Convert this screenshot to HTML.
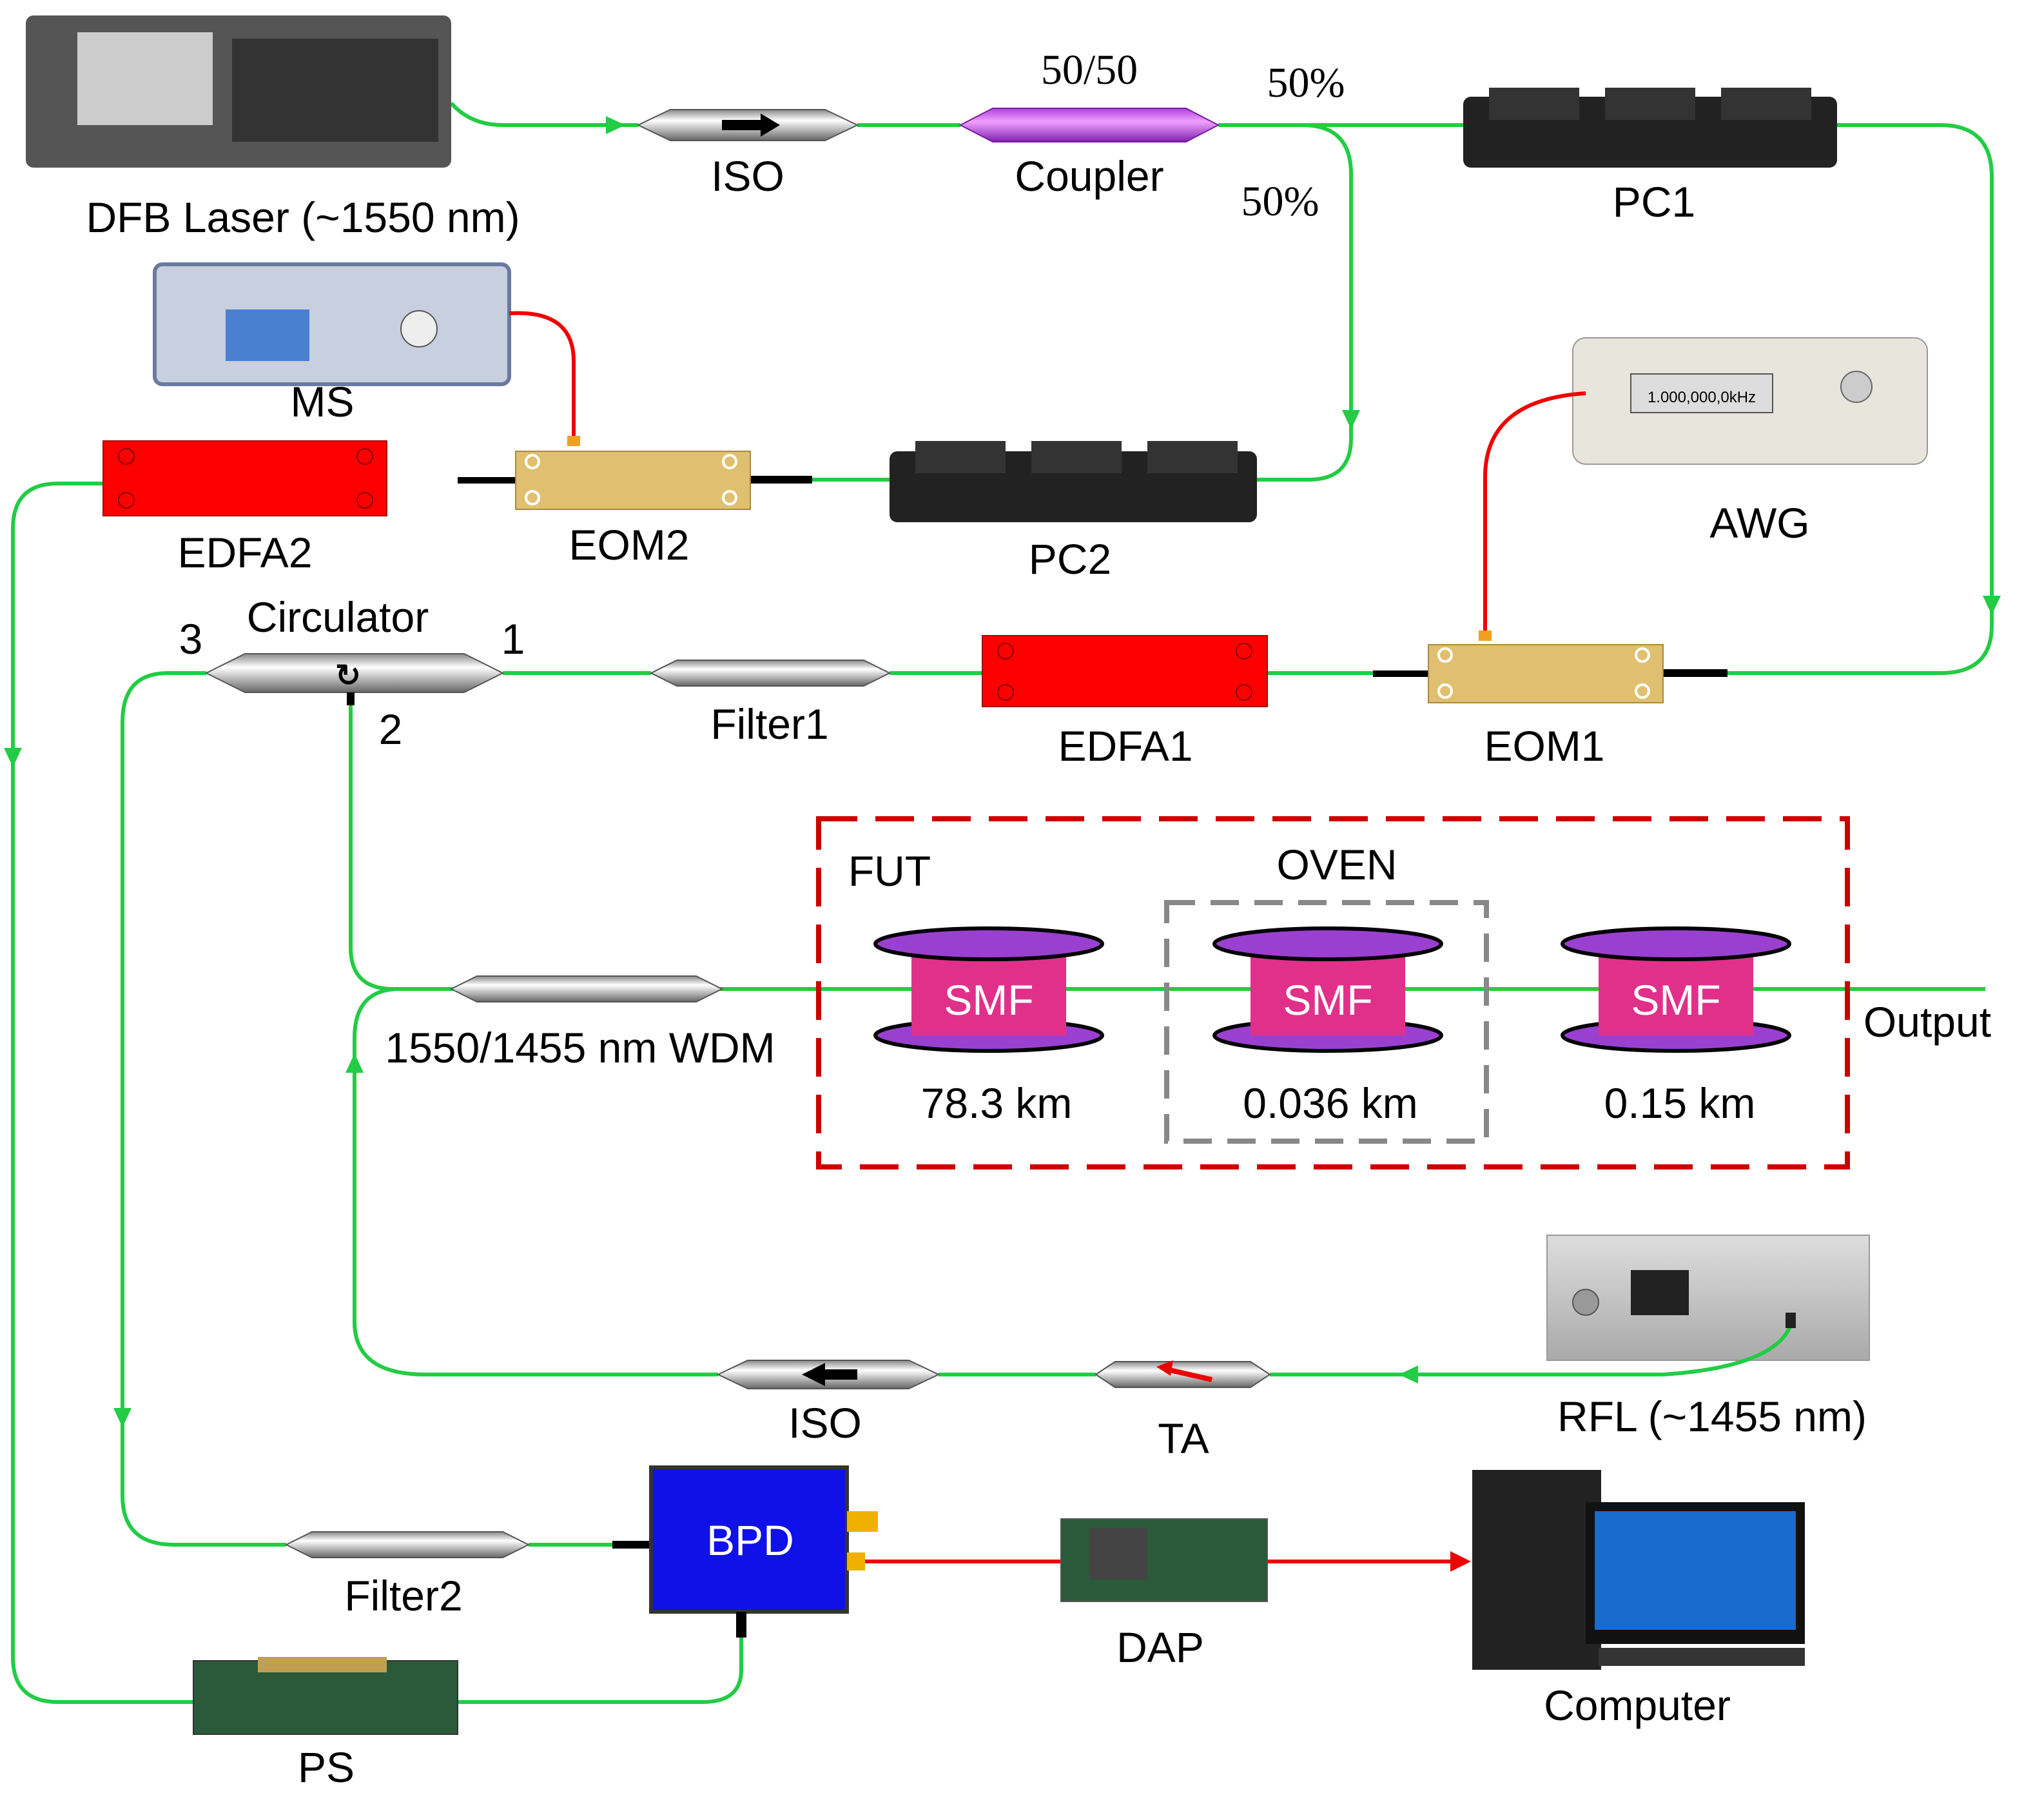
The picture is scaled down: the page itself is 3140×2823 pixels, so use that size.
<!DOCTYPE html>
<html><head><meta charset="utf-8"><style>
html,body{margin:0;padding:0;background:#fff;}
svg{display:block;}
text{font-family:"Liberation Sans",sans-serif;font-size:33px;fill:#000;text-anchor:middle;}
.s{font-family:"Liberation Serif",serif;}
</style></head><body>
<svg width="3140" height="2823" viewBox="0 0 1570 1411.5" preserveAspectRatio="none" xmlns="http://www.w3.org/2000/svg">
<defs>
<linearGradient id="cyl" x1="0" y1="0" x2="0" y2="1"><stop offset="0" stop-color="#888"/><stop offset=".35" stop-color="#fff"/><stop offset="1" stop-color="#666"/></linearGradient>
<linearGradient id="pur" x1="0" y1="0" x2="0" y2="1"><stop offset="0" stop-color="#b040e0"/><stop offset=".4" stop-color="#f0a0ff"/><stop offset="1" stop-color="#8020b0"/></linearGradient>
<linearGradient id="grey" x1="0" y1="0" x2="0" y2="1"><stop offset="0" stop-color="#ddd"/><stop offset="1" stop-color="#aaa"/></linearGradient>
</defs>
<g fill="none" stroke="#22cc44" stroke-width="3">
<path d="M350 80 Q365 97 390 97 L495 97"/>
<path d="M665 97 L745 97"/><path d="M945 97 L1135 97"/>
<path d="M1425 97 L1505 97 Q1545 97 1545 137 L1545 485 Q1545 522 1505 522 L1340 522"/>
<path d="M950 97 L1010 97 Q1048 97 1048 135 L1048 340 Q1048 372 1015 372 L975 372"/>
<path d="M690 372 L630 372"/>
<path d="M300 375 L45 375 Q10 375 10 410 L10 1285 Q10 1320 45 1320 L150 1320"/>
<path d="M390 522 L505 522"/><path d="M690 522 L762 522"/><path d="M983 522 L1065 522"/>
<path d="M160 522 L130 522 Q95 522 95 560 L95 1160 Q95 1198 135 1198 L222 1198"/>
<path d="M410 1198 L475 1198"/>
<path d="M272 545 L272 735 Q272 767 305 767 L1540 767"/>
<path d="M350 767 L310 767 Q275 767 275 805 L275 1025 Q275 1066 330 1066 L557 1066"/>
<path d="M728 1066 L850 1066"/>
<path d="M575 1270 L575 1295 Q575 1320 545 1320 L355 1320"/>
</g>
<g fill="#22cc44">
<path d="M470 90 L470 104 L485 97 Z"/>
<path d="M1041 318 L1055 318 L1048 333 Z"/>
<path d="M1538 462 L1552 462 L1545 477 Z"/>
<path d="M3 580 L17 580 L10 595 Z"/>
<path d="M88 1092 L102 1092 L95 1107 Z"/>
<path d="M268 832 L282 832 L275 817 Z"/>
<path d="M1100 1059 L1100 1073 L1085 1066 Z"/>
</g>
<rect x="20" y="12" width="330" height="118" fill="#555" rx="6"/>
<rect x="60" y="25" width="105" height="72" fill="#ccc"/>
<rect x="180" y="30" width="160" height="80" fill="#333"/>
<text x="235" y="180">DFB Laser (~1550 nm)</text>
<path d="M495 97 L520 85 L640 85 L665 97 L640 109 L520 109 Z" fill="url(#cyl)" stroke="#555"/>
<path d="M560 93 L590 93 L590 88 L605 97 L590 106 L590 101 L560 101 Z" fill="#000"/>
<text x="580" y="148">ISO</text>
<path d="M745 97 L770 84 L920 84 L945 97 L920 110 L770 110 Z" fill="url(#pur)" stroke="#7a1aa0"/>
<text x="845" y="65" class="s">50/50</text>
<text x="845" y="148">Coupler</text>
<text x="1013" y="75" class="s">50%</text>
<text x="993" y="167" class="s">50%</text>
<rect x="1135" y="75" width="290" height="55" fill="#222" rx="6"/>
<rect x="1155" y="68" width="70" height="25" fill="#333"/><rect x="1245" y="68" width="70" height="25" fill="#333"/><rect x="1335" y="68" width="70" height="25" fill="#333"/>
<text x="1283" y="168">PC1</text>
<rect x="690" y="350" width="285" height="55" fill="#222" rx="6"/>
<rect x="710" y="342" width="70" height="25" fill="#333"/><rect x="800" y="342" width="70" height="25" fill="#333"/><rect x="890" y="342" width="70" height="25" fill="#333"/>
<text x="830" y="445">PC2</text>
<rect x="120" y="205" width="275" height="93" fill="#c8d0e0" stroke="#6a7aa0" stroke-width="3" rx="6"/>
<rect x="175" y="240" width="65" height="40" fill="#4a80d0"/>
<circle cx="325" cy="255" r="14" fill="#eee" stroke="#555"/>
<text x="250" y="323">MS</text>
<path d="M395 243 Q445 240 445 280 L445 340" fill="none" stroke="#e00" stroke-width="3"/>
<rect x="440" y="338" width="10" height="8" fill="#f0a020"/>
<rect x="355" y="370" width="45" height="5" fill="#000"/><rect x="582" y="369" width="48" height="6" fill="#000"/>
<rect x="400" y="350" width="182" height="45" fill="#e0c070" stroke="#aa8840"/>
<circle cx="413" cy="358" r="5" fill="none" stroke="#fff" stroke-width="2"/><circle cx="413" cy="386" r="5" fill="none" stroke="#fff" stroke-width="2"/><circle cx="566" cy="358" r="5" fill="none" stroke="#fff" stroke-width="2"/><circle cx="566" cy="386" r="5" fill="none" stroke="#fff" stroke-width="2"/>
<text x="488" y="434">EOM2</text>
<rect x="80" y="342" width="220" height="58" fill="#f00" stroke="#a00"/>
<circle cx="98" cy="354" r="6" fill="none" stroke="#800"/><circle cx="98" cy="388" r="6" fill="none" stroke="#800"/><circle cx="283" cy="354" r="6" fill="none" stroke="#800"/><circle cx="283" cy="388" r="6" fill="none" stroke="#800"/>
<text x="190" y="440">EDFA2</text>
<rect x="1220" y="262" width="275" height="98" fill="#e8e6dc" stroke="#999" rx="10"/>
<rect x="1265" y="290" width="110" height="30" fill="#ddd" stroke="#555"/>
<text x="1320" y="312" style="font-size:12px">1.000,000,0kHz</text>
<circle cx="1440" cy="300" r="12" fill="#ccc" stroke="#666"/>
<text x="1365" y="417">AWG</text>
<path d="M1230 305 Q1152 310 1152 370 L1152 490" fill="none" stroke="#e00" stroke-width="3"/>
<rect x="1147" y="489" width="10" height="8" fill="#f0a020"/>
<rect x="1065" y="520" width="43" height="5" fill="#000"/><rect x="1290" y="519" width="50" height="6" fill="#000"/>
<rect x="1108" y="500" width="182" height="45" fill="#e0c070" stroke="#aa8840"/>
<circle cx="1121" cy="508" r="5" fill="none" stroke="#fff" stroke-width="2"/><circle cx="1121" cy="536" r="5" fill="none" stroke="#fff" stroke-width="2"/><circle cx="1274" cy="508" r="5" fill="none" stroke="#fff" stroke-width="2"/><circle cx="1274" cy="536" r="5" fill="none" stroke="#fff" stroke-width="2"/>
<text x="1198" y="590">EOM1</text>
<rect x="762" y="493" width="221" height="55" fill="#f00" stroke="#a00"/>
<circle cx="780" cy="505" r="6" fill="none" stroke="#800"/><circle cx="780" cy="537" r="6" fill="none" stroke="#800"/><circle cx="965" cy="505" r="6" fill="none" stroke="#800"/><circle cx="965" cy="537" r="6" fill="none" stroke="#800"/>
<text x="873" y="590">EDFA1</text>
<path d="M505 522 L525 512 L670 512 L690 522 L670 532 L525 532 Z" fill="url(#cyl)" stroke="#555"/>
<text x="597" y="573">Filter1</text>
<path d="M160 522 L190 507 L360 507 L390 522 L360 537 L190 537 Z" fill="url(#cyl)" stroke="#555"/>
<text x="270" y="532" style="font-size:24px;font-weight:bold">↻</text>
<rect x="269" y="537" width="6" height="10" fill="#000"/>
<text x="262" y="490">Circulator</text>
<text x="148" y="507">3</text><text x="398" y="507">1</text><text x="303" y="577">2</text>
<path d="M350 767 L370 757 L540 757 L560 767 L540 777 L370 777 Z" fill="url(#cyl)" stroke="#555"/>
<text x="450" y="824">1550/1455 nm WDM</text>
<rect x="635" y="635" width="798" height="270" fill="none" stroke="#c00" stroke-width="4" stroke-dasharray="30,14"/>
<rect x="905" y="700" width="248" height="185" fill="none" stroke="#888" stroke-width="4" stroke-dasharray="22,12"/>
<text x="690" y="687">FUT</text><text x="1037" y="682">OVEN</text>
<g>
<ellipse cx="767" cy="803" rx="88" ry="12" fill="#9a40d0" stroke="#000" stroke-width="3"/>
<rect x="707" y="732" width="120" height="71" fill="#e0308a"/>
<ellipse cx="767" cy="732" rx="88" ry="12" fill="#9a40d0" stroke="#000" stroke-width="3"/>
<text x="767" y="787" style="fill:#fff">SMF</text>
<ellipse cx="1030" cy="803" rx="88" ry="12" fill="#9a40d0" stroke="#000" stroke-width="3"/>
<rect x="970" y="732" width="120" height="71" fill="#e0308a"/>
<ellipse cx="1030" cy="732" rx="88" ry="12" fill="#9a40d0" stroke="#000" stroke-width="3"/>
<text x="1030" y="787" style="fill:#fff">SMF</text>
<ellipse cx="1300" cy="803" rx="88" ry="12" fill="#9a40d0" stroke="#000" stroke-width="3"/>
<rect x="1240" y="732" width="120" height="71" fill="#e0308a"/>
<ellipse cx="1300" cy="732" rx="88" ry="12" fill="#9a40d0" stroke="#000" stroke-width="3"/>
<text x="1300" y="787" style="fill:#fff">SMF</text>
</g>
<text x="773" y="867">78.3 km</text><text x="1032" y="867">0.036 km</text><text x="1303" y="867">0.15 km</text>
<text x="1495" y="804">Output</text>
<rect x="1200" y="958" width="250" height="97" fill="url(#grey)" stroke="#999"/>
<rect x="1265" y="985" width="45" height="35" fill="#222"/>
<circle cx="1230" cy="1010" r="10" fill="#999" stroke="#555"/>
<path d="M985 1066 L1290 1066 Q1380 1060 1390 1025" fill="none" stroke="#22cc44" stroke-width="3"/>
<rect x="1385" y="1018" width="8" height="12" fill="#222"/>
<text x="1328" y="1110">RFL (~1455 nm)</text>
<path d="M850 1066 L865 1056 L970 1056 L985 1066 L970 1076 L865 1076 Z" fill="url(#cyl)" stroke="#555"/>
<path d="M940 1070 L905 1062" stroke="#e00" stroke-width="4"/><path d="M897 1060 L910 1055 L908 1067 Z" fill="#e00"/>
<text x="918" y="1127">TA</text>
<path d="M557 1066 L580 1055 L705 1055 L728 1066 L705 1077 L580 1077 Z" fill="url(#cyl)" stroke="#555"/>
<path d="M665 1062 L640 1062 L640 1057 L622 1066 L640 1075 L640 1070 L665 1070 Z" fill="#000"/>
<text x="640" y="1115">ISO</text>
<path d="M222 1198 L242 1188 L390 1188 L410 1198 L390 1208 L242 1208 Z" fill="url(#cyl)" stroke="#555"/>
<text x="313" y="1249">Filter2</text>
<rect x="475" y="1195" width="30" height="6" fill="#000"/>
<rect x="505" y="1138" width="152" height="112" fill="#1010e8" stroke="#333" stroke-width="3"/>
<text x="582" y="1206" style="fill:#fff">BPD</text>
<rect x="657" y="1172" width="24" height="16" fill="#f0b000"/><rect x="657" y="1204" width="14" height="14" fill="#f0b000"/>
<rect x="571" y="1250" width="8" height="20" fill="#000"/>
<path d="M671 1211 L823 1211" stroke="#e00" stroke-width="3"/>
<rect x="823" y="1178" width="160" height="64" fill="#2a5a3a" stroke="#555"/>
<rect x="845" y="1185" width="45" height="40" fill="#444"/>
<text x="900" y="1289">DAP</text>
<path d="M983 1211 L1125 1211" stroke="#e00" stroke-width="3"/><path d="M1125 1203 L1141 1211 L1125 1219 Z" fill="#e00"/>
<rect x="1142" y="1140" width="100" height="155" fill="#222"/>
<rect x="1230" y="1165" width="170" height="110" fill="#111"/>
<rect x="1237" y="1172" width="156" height="92" fill="#1a6ad0"/>
<rect x="1240" y="1278" width="160" height="14" fill="#333"/>
<text x="1270" y="1334">Computer</text>
<rect x="150" y="1288" width="205" height="57" fill="#2a5a3a" stroke="#333"/>
<rect x="200" y="1285" width="100" height="12" fill="#c0a050"/>
<text x="253" y="1382">PS</text>
</svg>
</body></html>
